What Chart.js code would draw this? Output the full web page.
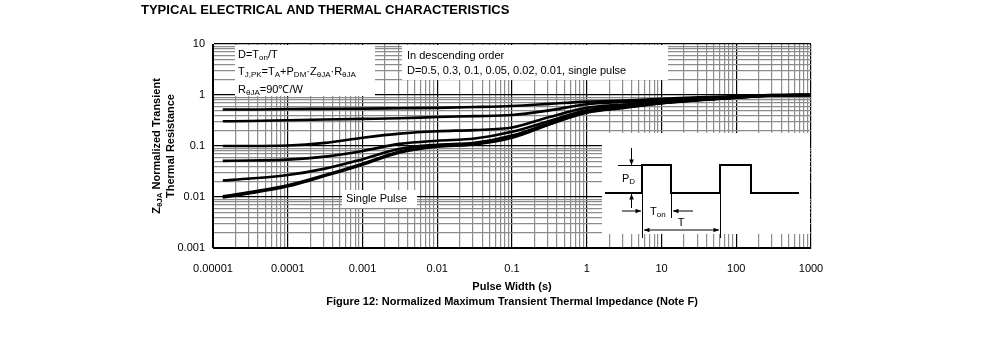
<!DOCTYPE html>
<html>
<head>
<meta charset="utf-8">
<script src="https://cdn.jsdelivr.net/npm/chart.js@4/dist/chart.umd.min.js"></script>
<style>
  html, body { margin: 0; padding: 0; background: #fff; }
  #wrap { width: 991px; height: 360px; position: relative; }
</style>
</head>
<body>
<div id="wrap"><canvas id="zth"></canvas></div>
<script>
// pulse widths (s) where the curves were read
const pulseWidth = [1.35e-5, 3.16e-5, 1e-4, 3.16e-4, 1e-3, 3.16e-3, 1e-2, 3.16e-2, 0.1, 0.316, 1, 3.16, 10, 31.6, 100, 316, 1000];

// normalized Zth for each duty cycle
const zD050 = [0.52, 0.52, 0.53, 0.535, 0.54, 0.55, 0.56, 0.58, 0.61, 0.67, 0.74, 0.78, 0.84, 0.9, 0.95, 1.0, 1.0];
const zD030 = [0.305, 0.31, 0.32, 0.33, 0.34, 0.35, 0.37, 0.385, 0.405, 0.5, 0.66, 0.73, 0.8, 0.87, 0.93, 1.0, 1.0];
const zD010 = [0.1, 0.1, 0.102, 0.115, 0.145, 0.175, 0.195, 0.205, 0.23, 0.37, 0.56, 0.65, 0.75, 0.84, 0.91, 0.99, 1.0];
const zD005 = [0.051, 0.052, 0.054, 0.062, 0.08, 0.11, 0.127, 0.14, 0.19, 0.31, 0.5, 0.6, 0.71, 0.81, 0.9, 0.99, 1.0];
const zD002 = [0.021, 0.023, 0.027, 0.036, 0.055, 0.088, 0.106, 0.115, 0.16, 0.28, 0.47, 0.58, 0.7, 0.8, 0.89, 0.98, 1.0];
const zD001 = [0.0103, 0.0125, 0.017, 0.027, 0.045, 0.078, 0.1, 0.11, 0.15, 0.27, 0.46, 0.57, 0.69, 0.8, 0.89, 0.98, 1.0];
const zSingle = [0.0098, 0.0118, 0.0162, 0.026, 0.043, 0.075, 0.097, 0.107, 0.145, 0.265, 0.45, 0.56, 0.69, 0.79, 0.89, 0.98, 1.0];

const seriesNames = ['D=0.5', 'D=0.3', 'D=0.1', 'D=0.05', 'D=0.02', 'D=0.01', 'Single Pulse'];
const seriesValues = [zD050, zD030, zD010, zD005, zD002, zD001, zSingle];

const xTickLabels = ['0.00001', '0.0001', '0.001', '0.01', '0.1', '1', '10', '100', '1000'];
const yTickLabels = ['0.001', '0.01', '0.1', '1', '10'];

const FONT = 'Arial, "Liberation Sans", sans-serif';

function isDecade(v) {
    const l = Math.log10(v);
    return Math.abs(l - Math.round(l)) < 1e-6;
}

// 1..9 x 10^n grid ticks
function logTicks(min, max) {
    const t = [];
    for (let e = Math.round(Math.log10(min)); e < Math.round(Math.log10(max)); e++) {
        for (let m = 1; m < 10; m++) t.push({ value: m * Math.pow(10, e) });
    }
    t.push({ value: max });
    return t;
}

// draw text made of [string, isSub] pieces
function richText(ctx, parts, x, y, size, bold) {
    let cx = x;
    parts.forEach(([s, sub]) => {
        const fs = sub ? Math.round(size * 0.75) : size;
        ctx.font = (bold ? 'bold ' : '') + fs + 'px ' + FONT;
        ctx.fillText(s, cx, sub ? y + size * 0.28 : y);
        cx += ctx.measureText(s).width;
    });
    return cx - x;
}

function richWidth(ctx, parts, size, bold) {
    let w = 0;
    parts.forEach(([s, sub]) => {
        const fs = sub ? Math.round(size * 0.75) : size;
        ctx.font = (bold ? 'bold ' : '') + fs + 'px ' + FONT;
        w += ctx.measureText(s).width;
    });
    return w;
}

function arrow(ctx, x1, y1, x2, y2) {
    ctx.beginPath();
    ctx.moveTo(x1, y1);
    ctx.lineTo(x2, y2);
    ctx.stroke();
    const a = Math.atan2(y2 - y1, x2 - x1);
    ctx.beginPath();
    ctx.moveTo(x2, y2);
    ctx.lineTo(x2 - 6 * Math.cos(a - 0.4), y2 - 6 * Math.sin(a - 0.4));
    ctx.lineTo(x2 - 6 * Math.cos(a + 0.4), y2 - 6 * Math.sin(a + 0.4));
    ctx.closePath();
    ctx.fill();
}

// white boxes, notes and the pulse inset, drawn over the grid
const notesPlugin = {
    id: 'notes',
    beforeDatasetsDraw(chart) {
        const ctx = chart.ctx;
        const a = chart.chartArea;
        const ox = a.left, oy = a.top;
        ctx.save();
        ctx.fillStyle = '#fff';
        ctx.fillRect(ox + 22, oy + 1, 140, 51);      // formula box
        ctx.fillRect(ox + 189, oy + 1, 266, 35);     // order box
        ctx.fillRect(ox + 129, oy + 146, 75, 18);    // single pulse label
        ctx.fillRect(ox + 389, oy + 89, a.right - ox - 390, 101); // inset

        ctx.fillStyle = '#000';
        ctx.textBaseline = 'middle';
        ctx.textAlign = 'left';
        richText(ctx, [['D=T'], ['on', 1], ['/T']], ox + 25, oy + 11, 11);
        richText(ctx, [['T'], ['J,PK', 1], ['=T'], ['A', 1], ['+P'], ['DM', 1], ['·Z'], ['θJA', 1], ['·R'], ['θJA', 1]], ox + 25, oy + 28, 11);
        richText(ctx, [['R'], ['θJA', 1], ['=90℃/W']], ox + 25, oy + 46, 11);
        ctx.font = '11px ' + FONT;
        ctx.fillText('In descending order', ox + 194, oy + 12);
        ctx.fillText('D=0.5, 0.3, 0.1, 0.05, 0.02, 0.01, single pulse', ox + 194, oy + 27);
        ctx.fillText('Single Pulse', ox + 133, oy + 155);

        // pulse train schematic
        const X = v => ox + v, Y = v => oy + v;
        ctx.strokeStyle = '#000';
        ctx.lineWidth = 2;
        ctx.beginPath();
        ctx.moveTo(X(392), Y(149));
        ctx.lineTo(X(429), Y(149));
        ctx.lineTo(X(429), Y(121));
        ctx.lineTo(X(458), Y(121));
        ctx.lineTo(X(458), Y(149));
        ctx.lineTo(X(507), Y(149));
        ctx.lineTo(X(507), Y(121));
        ctx.lineTo(X(538), Y(121));
        ctx.lineTo(X(538), Y(149));
        ctx.lineTo(X(586), Y(149));
        ctx.stroke();

        ctx.lineWidth = 1;
        ctx.beginPath();
        ctx.moveTo(X(405), Y(121.5)); ctx.lineTo(X(429), Y(121.5));
        ctx.moveTo(X(429.5), Y(149)); ctx.lineTo(X(429.5), Y(194));
        ctx.moveTo(X(458.5), Y(149)); ctx.lineTo(X(458.5), Y(174));
        ctx.moveTo(X(507.5), Y(149)); ctx.lineTo(X(507.5), Y(194));
        ctx.stroke();
        arrow(ctx, X(418.5), Y(104), X(418.5), Y(121));
        arrow(ctx, X(418.5), Y(164), X(418.5), Y(150));
        arrow(ctx, X(409), Y(167), X(428), Y(167));
        arrow(ctx, X(480), Y(167), X(460), Y(167));
        arrow(ctx, X(470), Y(186), X(431), Y(186));
        arrow(ctx, X(470), Y(186), X(506), Y(186));

        richText(ctx, [['P'], ['D', 1]], X(409), Y(135), 11);
        richText(ctx, [['T'], ['on', 1]], X(437), Y(168), 11);
        ctx.font = '11px ' + FONT;
        ctx.textAlign = 'center';
        ctx.fillText('T', X(468), Y(179));
        ctx.restore();
    },
    afterDraw(chart) {
        const ctx = chart.ctx;
        const a = chart.chartArea;
        const cx = (a.left + a.right) / 2;
        ctx.save();
        ctx.fillStyle = '#000';
        ctx.textBaseline = 'middle';
        ctx.textAlign = 'left';
        ctx.font = 'bold 13px ' + FONT;
        ctx.fillText('TYPICAL ELECTRICAL AND THERMAL CHARACTERISTICS', 141, 10);

        ctx.textAlign = 'center';
        ctx.font = 'bold 11px ' + FONT;
        ctx.fillText('Pulse Width (s)', cx, a.bottom + 39);
        ctx.fillText('Figure 12: Normalized Maximum Transient Thermal Impedance (Note F)', cx, a.bottom + 54);

        // rotated y title, two lines
        const cy = (a.top + a.bottom) / 2;
        ctx.translate(157, cy);
        ctx.rotate(-Math.PI / 2);
        ctx.textAlign = 'left';
        const line1 = [['Z'], ['θJA', 1], [' Normalized Transient']];
        const w1 = richWidth(ctx, line1, 11, true);
        richText(ctx, line1, -w1 / 2, 0, 11, true);
        ctx.font = 'bold 11px ' + FONT;
        ctx.textAlign = 'center';
        ctx.fillText('Thermal Resistance', 0, 14);
        ctx.restore();
    }
};

const datasets = seriesNames.map((name, i) => ({
    label: name,
    data: pulseWidth.map((x, j) => ({ x: x, y: seriesValues[i][j] })),
    borderColor: '#000',
    borderWidth: 2.6,
    pointRadius: 0,
    fill: false,
    cubicInterpolationMode: 'monotone'
}));

const gridColor = ctx => (ctx.tick && isDecade(ctx.tick.value)) ? '#000' : '#8c8c8c';

new Chart(document.getElementById('zth'), {
    type: 'line',
    data: { datasets: datasets },
    options: {
        responsive: true,
        maintainAspectRatio: false,
        animation: false,
        layout: { padding: { left: 153, right: 180, top: 44, bottom: 82 } },
        plugins: {
            legend: { display: false },
            tooltip: { enabled: false }
        },
        scales: {
            x: {
                type: 'logarithmic',
                min: 1e-5,
                max: 1000,
                afterBuildTicks: s => { s.ticks = logTicks(1e-5, 1000); },
                afterFit: s => { s.height = 30; },
                grid: { color: gridColor, lineWidth: 1.2, drawTicks: false },
                border: { display: true, color: '#000', width: 1 },
                ticks: {
                    autoSkip: false,
                    maxRotation: 0,
                    padding: 14,
                    color: '#000',
                    font: { family: FONT, size: 11 },
                    callback: v => isDecade(v) ? xTickLabels[Math.round(Math.log10(v)) + 5] : ''
                }
            },
            y: {
                type: 'logarithmic',
                min: 0.001,
                max: 10,
                afterBuildTicks: s => { s.ticks = logTicks(0.001, 10); },
                afterFit: s => { s.width = 60; },
                grid: { color: gridColor, lineWidth: 1.2, drawTicks: false },
                border: { display: true, color: '#000', width: 1 },
                ticks: {
                    autoSkip: false,
                    padding: 8,
                    color: '#000',
                    font: { family: FONT, size: 11 },
                    callback: v => isDecade(v) ? yTickLabels[Math.round(Math.log10(v)) + 3] : ''
                }
            }
        }
    },
    plugins: [notesPlugin]
});
</script>
</body>
</html>
